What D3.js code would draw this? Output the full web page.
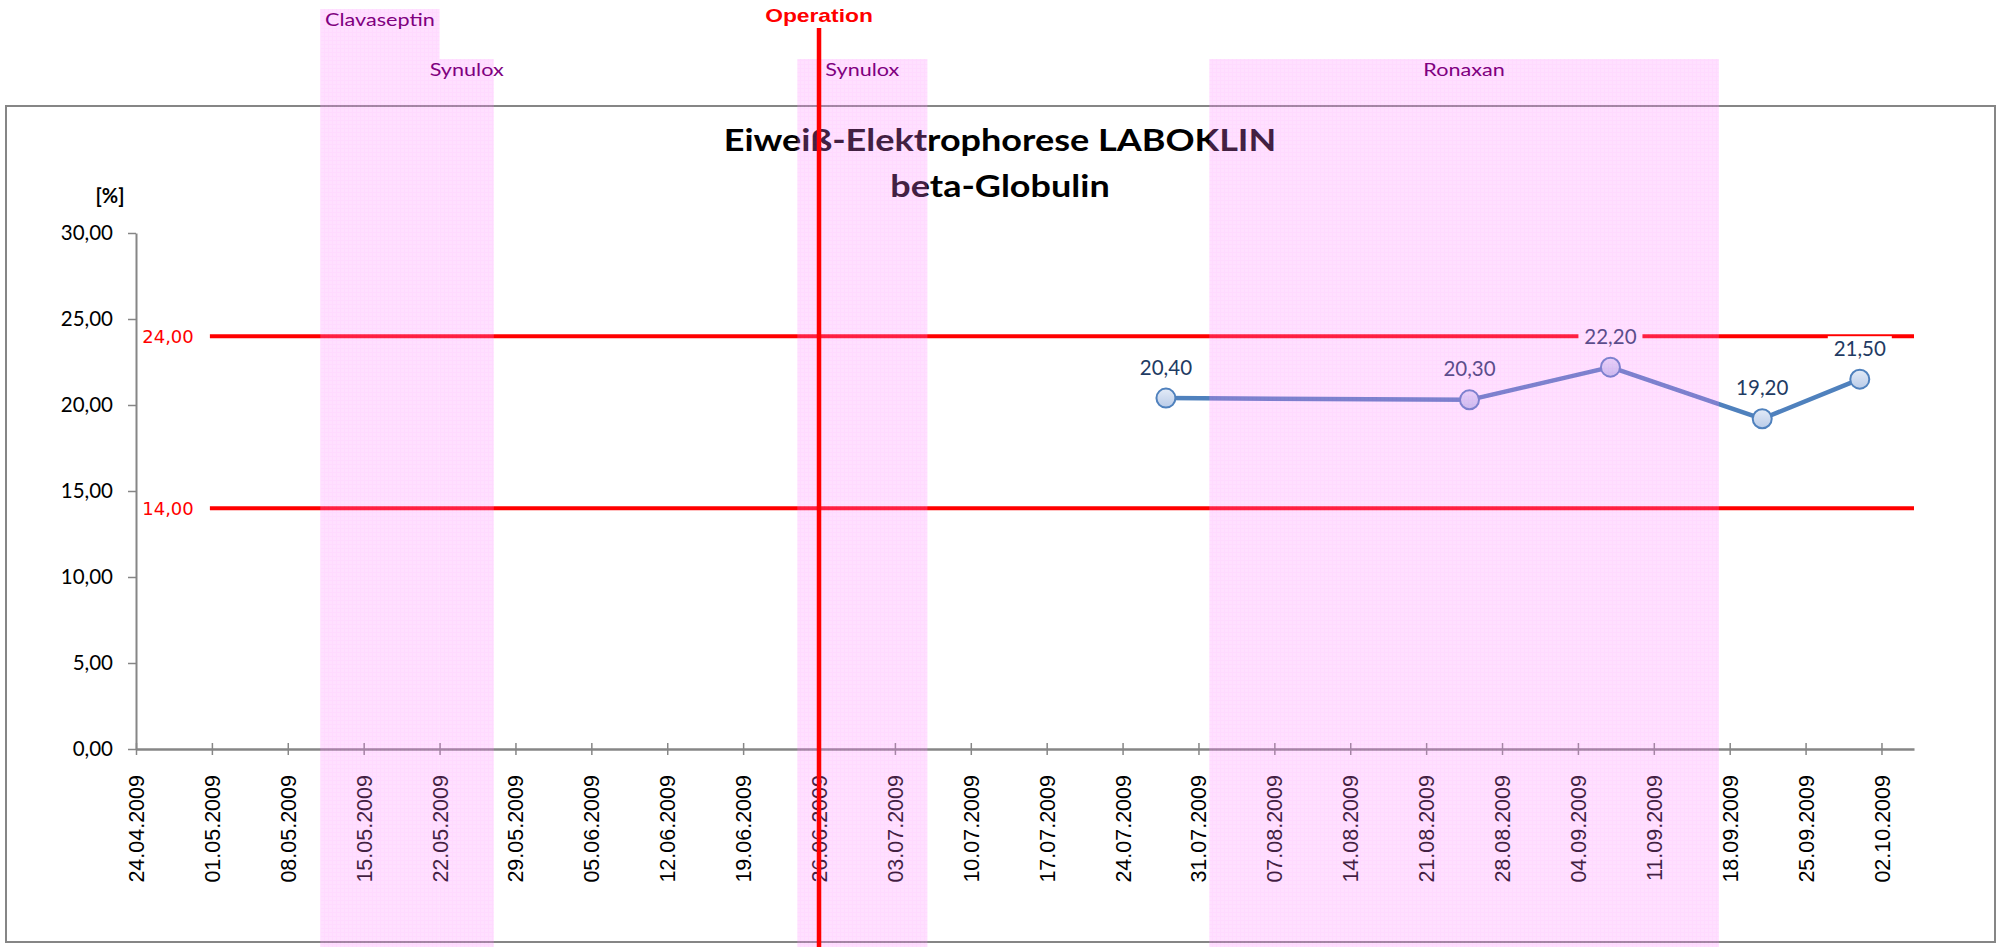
<!DOCTYPE html>
<html><head><meta charset="utf-8">
<script src="https://cdn.jsdelivr.net/npm/d3@7"></script>
<style>body{margin:0;background:#fff} svg{display:block}</style>
</head><body>
<svg id="chart" width="1999" height="947"></svg>
<script>
// ---------- data ----------
const tickLabels = ["24.04.2009","01.05.2009","08.05.2009","15.05.2009","22.05.2009","29.05.2009",
  "05.06.2009","12.06.2009","19.06.2009","26.06.2009","03.07.2009","10.07.2009","17.07.2009",
  "24.07.2009","31.07.2009","07.08.2009","14.08.2009","21.08.2009","28.08.2009","04.09.2009",
  "11.09.2009","18.09.2009","25.09.2009","02.10.2009"];
const axisStart = "24.04.2009";
const axisEnd = "05.10.2009";
const yTicks = [0, 5, 10, 15, 20, 25, 30];
const sampleDates = ["28.07.2009","25.08.2009","07.09.2009","21.09.2009","30.09.2009"];
const betaGlobulin = [20.4, 20.3, 22.2, 19.2, 21.5];
const refValues = [24, 14];
const refStart = "01.05.2009";
const therapyNames = ["Clavaseptin","Synulox","Synulox","Ronaxan"];
const therapyStart = ["11.05.2009","22.05.2009","24.06.2009","01.08.2009"];
const therapyEnd   = ["22.05.2009","27.05.2009","06.07.2009","17.09.2009"];
const therapyRow   = [0, 1, 1, 1];
const operationDate = "26.06.2009";
const operationLabel = "Operation";
const titleLines = ["Eiweiß-Elektrophorese LABOKLIN", "beta-Globulin"];
const yUnit = "[%]";

// ---------- setup ----------
const parse = d3.utcParse("%d.%m.%Y");
const de = d3.formatLocale({decimal: ",", thousands: ".", grouping: [3], currency: ["", " €"]});
const fmt = de.format(".2f");
const svg = d3.select("#chart");

const x = d3.scaleUtc().domain([parse(axisStart), parse(axisEnd)]).range([136, 1914]);
const y = d3.scaleLinear().domain([0, 30]).range([749, 233]);

const AXIS = "#868686";

// pattern for therapy bands
const defs = svg.append("defs");
const pat = defs.append("pattern").attr("id", "bandPat").attr("patternUnits", "userSpaceOnUse")
  .attr("width", 4).attr("height", 4);
pat.append("rect").attr("width", 4).attr("height", 4).attr("fill", "#ff88ff");
pat.append("rect").attr("width", 1).attr("height", 4).attr("fill", "#ff70ff");
pat.append("rect").attr("width", 4).attr("height", 1).attr("fill", "#ff70ff");
const grad = defs.append("linearGradient").attr("id", "mk").attr("x1", 0).attr("y1", 0).attr("x2", 0).attr("y2", 1);
grad.append("stop").attr("offset", "0%").attr("stop-color", "#e3ebf7");
grad.append("stop").attr("offset", "100%").attr("stop-color", "#b9cbe8");

// chart area border
svg.append("rect").attr("x", 6).attr("y", 106).attr("width", 1989).attr("height", 836)
  .attr("fill", "none").attr("stroke", AXIS).attr("stroke-width", 2);

function stretch(sel, k) {
  sel.each(function () {
    const w = this.getComputedTextLength();
    d3.select(this).attr("textLength", w * k).attr("lengthAdjust", "spacingAndGlyphs");
  });
}

// title
svg.append("g").selectAll("text").data(titleLines).join("text")
  .attr("x", 1000).attr("y", (d, i) => 151 + i * 46)
  .attr("text-anchor", "middle")
  .style("font-family", "Lato").style("font-weight", "bold").style("font-size", "30px")
  .attr("fill", "#000").text(d => d)
  .call(stretch, 1.2);

svg.append("text").attr("x", 110).attr("y", 203).attr("text-anchor", "middle")
  .style("font-family", "Lato").style("font-weight", "bold").style("font-size", "20px")
  .text(yUnit);

// y axis
const yAxis = svg.append("g").attr("transform", "translate(136,0)")
  .call(d3.axisLeft(y).tickValues(yTicks).tickFormat(fmt).tickSize(8).tickSizeOuter(0).tickPadding(15));
yAxis.select(".domain").attr("stroke", AXIS).attr("stroke-width", 2);
yAxis.selectAll(".tick line").attr("stroke", AXIS).attr("stroke-width", 1.5);
yAxis.selectAll("text").style("font-family", "Lato").style("font-size", "20.5px").attr("fill", "#000");

// x axis
const xAxis = svg.append("g").attr("transform", `translate(0,${y(0)})`)
  .call(d3.axisBottom(x).tickValues(tickLabels.map(parse)).tickFormat(d3.utcFormat("%d.%m.%Y"))
    .tickSize(6).tickSizeOuter(0));
xAxis.select(".domain").attr("stroke", AXIS).attr("stroke-width", 2.5);
xAxis.selectAll(".tick line").attr("stroke", AXIS).attr("stroke-width", 1.5).attr("y1", -6).attr("y2", 6);
xAxis.selectAll("text")
  .attr("transform", "rotate(-90)").attr("x", -26).attr("y", 0).attr("dy", "0.35em")
  .style("text-anchor", "end").style("font-family", "'Liberation Sans', Arial")
  .style("font-size", "21.5px").attr("fill", "#000");

// reference lines
const ref = svg.append("g");
ref.selectAll("line").data(refValues).join("line")
  .attr("x1", x(parse(refStart)) - 2).attr("x2", x.range()[1])
  .attr("y1", d => y(d)).attr("y2", d => y(d))
  .attr("stroke", "#ff0000").attr("stroke-width", 4);
ref.selectAll("text").data(refValues).join("text")
  .attr("x", 168).attr("y", d => y(d)).attr("dy", "0.36em").attr("text-anchor", "middle")
  .style("font-family", "'DejaVu Sans'").style("font-size", "18px").attr("fill", "#ff0000")
  .text(d => fmt(d));

// data series
const pts = sampleDates.map((d, i) => ({date: parse(d), v: betaGlobulin[i]}));
svg.append("path").datum(pts)
  .attr("d", d3.line().x(d => x(d.date)).y(d => y(d.v)))
  .attr("fill", "none").attr("stroke", "#4f81bd").attr("stroke-width", 4.5).attr("stroke-linejoin", "round");
svg.append("g").selectAll("circle").data(pts).join("circle")
  .attr("cx", d => x(d.date)).attr("cy", d => y(d.v)).attr("r", 9.5)
  .attr("fill", "url(#mk)").attr("stroke", "#4f81bd").attr("stroke-width", 2);
const lbl = svg.append("g").selectAll("g").data(pts).join("g")
  .attr("transform", d => `translate(${x(d.date)},${y(d.v) - 31})`);
lbl.append("rect").attr("x", -32).attr("y", -12).attr("width", 64).attr("height", 24).attr("fill", "#fff");
lbl.append("text").attr("text-anchor", "middle").attr("dy", "0.36em")
  .style("font-family", "Lato").style("font-size", "20.5px").attr("fill", "#1f3b63")
  .text(d => fmt(d.v));

// therapy bands (semi-transparent overlay)
const bands = therapyNames.map((n, i) => ({name: n, s: parse(therapyStart[i]), e: parse(therapyEnd[i]), row: therapyRow[i]}));
const rowTop = [9, 59];
svg.append("g").selectAll("rect").data(bands).join("rect")
  .attr("x", d => x(d.s)).attr("width", d => x(d.e) - x(d.s))
  .attr("y", d => rowTop[d.row]).attr("height", d => 947 - rowTop[d.row])
  .attr("fill", "url(#bandPat)").attr("opacity", 0.26);
svg.append("g").selectAll("text").data(bands).join("text")
  .attr("x", d => (x(d.s) + x(d.e)) / 2).attr("y", d => rowTop[d.row] + 17)
  .attr("text-anchor", "middle")
  .style("font-family", "Lato").style("font-size", "18px").attr("fill", "#800080")
  .text(d => d.name)
  .call(stretch, 1.2);

// operation
const ox = x(parse(operationDate));
svg.append("line").attr("x1", ox).attr("x2", ox).attr("y1", 28).attr("y2", 947)
  .attr("stroke", "#ff0000").attr("stroke-width", 4.5);
svg.append("text").attr("x", ox).attr("y", 22).attr("text-anchor", "middle")
  .style("font-family", "'Liberation Sans', Arial").style("font-weight", "bold").style("font-size", "19px")
  .attr("fill", "#ff0000").text(operationLabel)
  .call(stretch, 1.2);
</script>
</body></html>
